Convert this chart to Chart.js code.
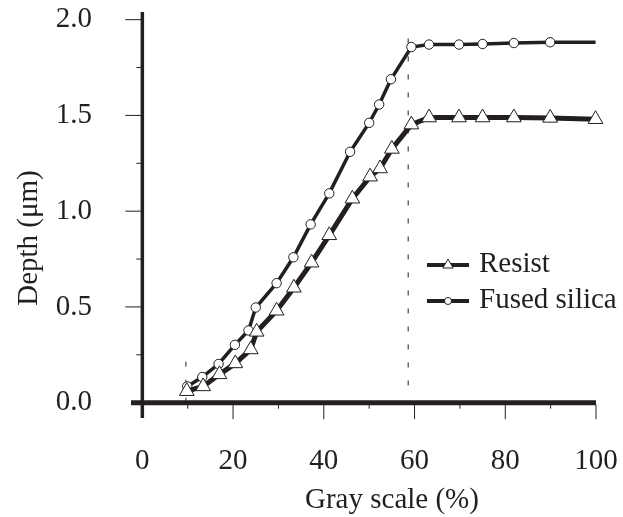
<!DOCTYPE html>
<html lang="en">
  <head>
    <meta charset="utf-8" />
    <title>Depth vs Gray scale</title>
    <script src="https://cdn.jsdelivr.net/npm/chart.js@4.4.0/dist/chart.umd.min.js"></script>
    <style>
      body { margin: 0; background: #fff; }
    </style>
  </head>
  <body>
    <canvas id="myChart" width="623" height="517"></canvas>

    <script>
      // values
      var grayResist = [9.8, 13.4, 17.0, 20.5, 23.9, 25.2, 29.6, 33.4, 37.3, 41.2, 46.3, 50.2, 52.4, 55.0, 59.3, 63.2, 69.8, 75.0, 81.9, 89.9, 99.9];
      var depthResist = [0.06, 0.085, 0.148, 0.205, 0.278, 0.37, 0.48, 0.6, 0.731, 0.874, 1.065, 1.18, 1.223, 1.325, 1.452, 1.489, 1.489, 1.489, 1.489, 1.487, 1.48];

      var grayFused = [9.9, 13.2, 16.8, 20.4, 23.4, 25.0, 29.6, 33.3, 37.1, 41.2, 45.8, 50.0, 52.2, 54.8, 59.3, 63.2, 69.8, 75.0, 81.9, 89.9, 99.9];
      var depthFused = [0.085, 0.134, 0.202, 0.302, 0.377, 0.497, 0.624, 0.759, 0.931, 1.093, 1.31, 1.461, 1.557, 1.689, 1.857, 1.87, 1.87, 1.873, 1.878, 1.882, 1.882];

      // vertical dashed guides
      var guideLeft = [{ x: 9.6, y: 0 }, { x: 9.6, y: 0.22 }];
      var guideRight = [{ x: 58.6, y: 0.09 }, { x: 58.6, y: 1.94 }];

      var xLabels = [0, 20, 40, 60, 80, 100];
      var xMinor = [10, 30, 50, 70, 90];
      var yLabels = [0, 0.5, 1.0, 1.5, 2.0];
      var yMinor = [0.25, 0.75, 1.25, 1.75];

      var seriesNames = ["Resist", "Fused silica"];
      var xTitle = "Gray scale (%)";
      var yTitle = "Depth (\u03bcm)";

      var ink = "#231f20";
      var serif = "'Liberation Serif', 'Times New Roman', serif";

      let toPoints = (xs, ys) => xs.map((v, i) => ({ x: v, y: ys[i] }));

      let drawTriangle = (ctx, cx, cy, r) => {
        ctx.beginPath();
        ctx.moveTo(cx, cy - r);
        ctx.lineTo(cx + 0.866 * r, cy + 0.5 * r);
        ctx.lineTo(cx - 0.866 * r, cy + 0.5 * r);
        ctx.closePath();
        ctx.fill();
        ctx.stroke();
      };

      let axesPlugin = {
        id: "axes",
        beforeDatasetsDraw: (chart) => {
          let ctx = chart.ctx;
          let area = chart.chartArea;
          let xs = chart.scales.x;
          let ys = chart.scales.y;
          let x0 = xs.getPixelForValue(0);
          let y0 = ys.getPixelForValue(0);
          let line = (a, b, c, d) => {
            ctx.beginPath();
            ctx.moveTo(a, b);
            ctx.lineTo(c, d);
            ctx.stroke();
          };

          ctx.save();
          ctx.strokeStyle = ink;
          ctx.lineWidth = 5;
          line(area.left, y0, area.right, y0);
          ctx.lineWidth = 3.5;
          line(x0, area.top, x0, area.bottom);

          ctx.lineWidth = 1;
          xLabels.forEach((v) => {
            if (v === 0) return;
            let px = xs.getPixelForValue(v);
            line(px, y0 + 2, px, y0 + 16.5);
          });
          xMinor.forEach((v) => {
            let px = xs.getPixelForValue(v);
            line(px, y0 + 2, px, y0 + 6);
          });
          yLabels.forEach((v) => {
            if (v === 0) return;
            let py = ys.getPixelForValue(v);
            line(x0 - 17, py, x0, py);
          });
          yMinor.forEach((v) => {
            let py = ys.getPixelForValue(v);
            line(x0 - 6, py, x0, py);
          });
          ctx.restore();
        },
        afterDraw: (chart) => {
          let ctx = chart.ctx;
          ctx.save();
          ctx.fillStyle = ink;
          ctx.font = "29px " + serif;

          // axis titles
          ctx.textAlign = "left";
          ctx.textBaseline = "alphabetic";
          ctx.fillText(xTitle, 305, 508);

          ctx.save();
          ctx.translate(29, 238);
          ctx.rotate(-Math.PI / 2);
          ctx.textAlign = "center";
          ctx.textBaseline = "middle";
          ctx.fillText(yTitle, 0, 0);
          ctx.restore();

          // legend
          let rows = [265, 301];
          ctx.strokeStyle = ink;
          rows.forEach((ly, i) => {
            ctx.lineWidth = 4;
            ctx.beginPath();
            ctx.moveTo(427, ly);
            ctx.lineTo(469, ly);
            ctx.stroke();
            ctx.lineWidth = 1;
            ctx.fillStyle = "#fff";
            if (i === 0) {
              drawTriangle(ctx, 448, ly, 6);
            } else {
              ctx.beginPath();
              ctx.arc(448, ly, 3.5, 0, Math.PI * 2);
              ctx.fill();
              ctx.stroke();
            }
            ctx.fillStyle = ink;
            ctx.textAlign = "left";
            ctx.textBaseline = "alphabetic";
            ctx.fillText(seriesNames[i], 479, ly + 7);
          });
          ctx.restore();
        },
      };

      let showChart = () => {
        new Chart(document.getElementById("myChart"), {
          type: "line",
          data: {
            datasets: [
              {
                label: seriesNames[0],
                data: toPoints(grayResist, depthResist),
                borderColor: ink,
                borderWidth: 5,
                pointStyle: "triangle",
                pointRadius: 8.5,
                pointBackgroundColor: "#fff",
                pointBorderColor: ink,
                pointBorderWidth: 1,
                tension: 0,
                clip: false,
              },
              {
                label: seriesNames[1],
                data: toPoints(grayFused, depthFused),
                borderColor: ink,
                borderWidth: 3.5,
                pointStyle: "circle",
                pointRadius: (c) => (c.dataIndex === grayFused.length - 1 ? 0 : 4.7),
                pointBackgroundColor: "#fff",
                pointBorderColor: ink,
                pointBorderWidth: 1,
                tension: 0,
                clip: false,
              },
              {
                label: "guide",
                data: guideRight,
                borderColor: ink,
                borderWidth: 1,
                borderDash: [5, 13],
                pointRadius: 0,
              },
              {
                label: "guide",
                data: guideLeft,
                borderColor: ink,
                borderWidth: 1,
                borderDash: [5, 13],
                pointRadius: 0,
              },
            ],
          },
          options: {
            responsive: false,
            animation: false,
            layout: { padding: { top: 12, right: 27, left: 0, bottom: 0 } },
            plugins: {
              legend: { display: false },
              tooltip: { enabled: false },
            },
            scales: {
              x: {
                type: "linear",
                min: -2.5,
                max: 100,
                grid: { display: false, drawTicks: false },
                border: { display: false },
                ticks: {
                  color: ink,
                  font: { family: serif, size: 29 },
                  padding: 26,
                  maxRotation: 0,
                },
                afterBuildTicks: (scale) => {
                  scale.ticks = xLabels.map((v) => ({ value: v }));
                },
                afterFit: (scale) => {
                  scale.height = 99;
                  scale.paddingLeft = 0;
                  scale.paddingRight = 0;
                },
              },
              y: {
                type: "linear",
                min: -0.08,
                max: 2.04,
                grid: { display: false, drawTicks: false },
                border: { display: false },
                ticks: {
                  color: ink,
                  font: { family: serif, size: 29 },
                  padding: 39,
                  callback: (v) => v.toFixed(1),
                },
                afterBuildTicks: (scale) => {
                  scale.ticks = yLabels.map((v) => ({ value: v }));
                },
                afterFit: (scale) => {
                  scale.width = 131;
                  scale.paddingTop = 0;
                  scale.paddingBottom = 0;
                },
              },
            },
          },
          plugins: [axesPlugin],
        });
      };

      showChart();
    </script>
  </body>
</html>
